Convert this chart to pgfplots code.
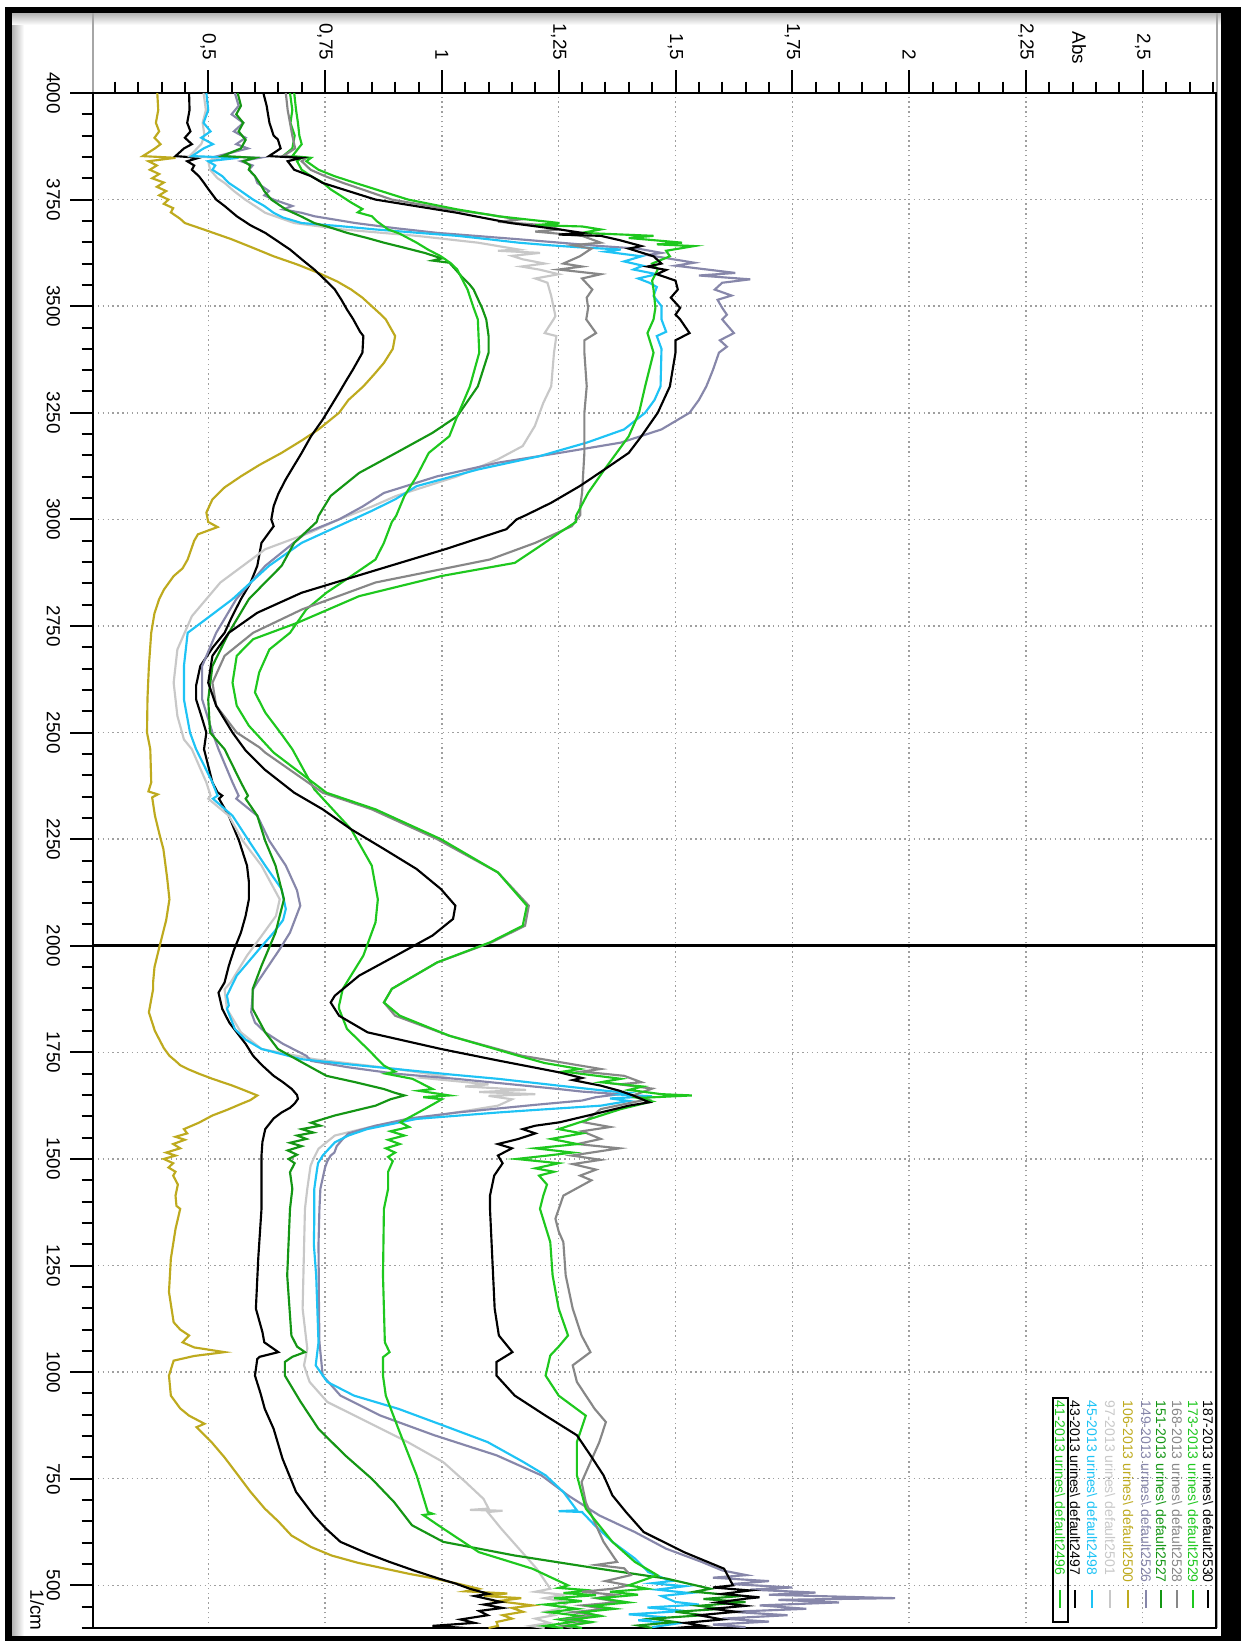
\documentclass[border=0pt]{standalone}
\usepackage{pgfplots}
\pgfplotsset{compat=1.18}
\usepackage{fontspec}
\setmainfont{Liberation Sans}
\definecolor{cGreen}{RGB}{30,200,30}
\definecolor{cGray}{RGB}{135,135,135}
\definecolor{cDGreen}{RGB}{20,150,20}
\definecolor{cSlate}{RGB}{135,135,170}
\definecolor{cOlive}{RGB}{190,170,30}
\definecolor{cLGray}{RGB}{200,200,200}
\definecolor{cCyan}{RGB}{30,195,245}
\begin{document}
\begin{tikzpicture}[x=0.35pt,y=0.35pt]
\useasboundingbox (0,0) rectangle (1248,1641);
\fill[white] (0,0) rectangle (1248,1641);
\shade[left color=gray!60, right color=white] (12,5) rectangle (24,1628);
\shade[top color=gray!60, bottom color=white] (12,1616) rectangle (1221,1628);
\fill[black] (5,0) rectangle (12,1634);
\fill[black] (5,1628) rectangle (1241,1634);
\fill[black] (1221,0) rectangle (1241,1634);
\fill[black] (5,0) rectangle (1241,5);
\draw[gray!70, line width=0.4pt] (93,13) -- (93,1628);
\draw[gray!70, line width=0.4pt] (1217,13) -- (1217,1628);
\begin{axis}[
  at={(32.55pt,4.55pt)}, anchor=south west,
  scale only axis, width=393.05pt, height=537.25pt,
  xmin=0.2534, xmax=2.6567, ymin=400, ymax=4000,
  axis line style={black, line width=0.9pt},
  xtick={0.5,0.75,1,1.25,1.5,1.75,2,2.25,2.5},
  xticklabels={{0,5},{0,75},1,{1,25},{1,5},{1,75},2,{2,25},{2,5}},
  minor xtick={0.3,0.35,...,2.66},
  ytick={500,750,1000,1250,1500,1750,2000,2250,2500,2750,3000,3250,3500,3750,4000},
  yticklabels={500,750,1000,1250,1500,1750,2000,2250,2500,2750,3000,3250,3500,3750,4000},
  minor ytick={400,450,...,4000},
  xtick pos=right, xticklabel pos=right,
  ytick pos=left, yticklabel pos=left,
  tick align=outside,
  major tick length=8pt, minor tick length=4pt,
  tick style={black, line width=0.7pt},
  grid=major,
  major grid style={draw=gray!75, dash pattern=on 0.5pt off 1.2pt, line width=0.5pt},
  tick label style={font=\fontsize{6.6}{7}\selectfont},
  xticklabel style={rotate=-90, anchor=east},
  yticklabel style={rotate=-90, anchor=north},
  extra y ticks={2000}, extra y tick labels={},
  extra y tick style={grid=major, major grid style={black, solid, line width=0.9pt}},
]
% 106 olive
\addplot[color=cOlive, line width=0.75pt, mark=none] coordinates {
(0.391,4000) (0.393,3960) (0.388,3930) (0.395,3910) (0.385,3895) (0.398,3880) (0.386,3870) (0.36,3852) (0.43,3848) (0.372,3840) (0.39,3830) (0.375,3820) (0.395,3810) (0.38,3800) (0.405,3790) (0.39,3780) (0.41,3770) (0.395,3760) (0.415,3750) (0.405,3740) (0.425,3730) (0.42,3720) (0.44,3705) (0.45,3695) (0.49,3680) (0.55,3657) (0.60,3635) (0.64,3617) (0.69,3598) (0.736,3578) (0.776,3558) (0.806,3539) (0.83,3520) (0.85,3500) (0.87,3480) (0.88,3469) (0.90,3430) (0.895,3400) (0.876,3367) (0.855,3340) (0.832,3312) (0.80,3280) (0.78,3250) (0.736,3211) (0.70,3185) (0.657,3156) (0.61,3128) (0.57,3101) (0.535,3075) (0.509,3047) (0.496,3016) (0.50,2994) (0.52,2982) (0.478,2965) (0.47,2950) (0.456,2906) (0.445,2885) (0.426,2867) (0.405,2835) (0.395,2813) (0.385,2780) (0.378,2734) (0.373,2656) (0.37,2580) (0.369,2500) (0.376,2461) (0.378,2383) (0.372,2362) (0.392,2355) (0.38,2348) (0.386,2305) (0.396,2260) (0.404,2227) (0.412,2160) (0.417,2109) (0.41,2060) (0.395,1995) (0.385,1950) (0.382,1914) (0.382,1898) (0.373,1844) (0.38,1820) (0.386,1800) (0.395,1781) (0.405,1760) (0.417,1742) (0.43,1730) (0.44,1720) (0.456,1711) (0.48,1700) (0.509,1688) (0.552,1672) (0.58,1660) (0.605,1649) (0.59,1638) (0.57,1629) (0.54,1615) (0.509,1602) (0.48,1585) (0.448,1570) (0.455,1560) (0.43,1552) (0.45,1545) (0.425,1535) (0.44,1525) (0.41,1515) (0.43,1508) (0.405,1500) (0.425,1490) (0.415,1480) (0.43,1470) (0.425,1461) (0.435,1440) (0.43,1414) (0.432,1390) (0.44,1383) (0.43,1336) (0.42,1266) (0.416,1188) (0.426,1117) (0.44,1100) (0.459,1086) (0.445,1070) (0.47,1058) (0.535,1047) (0.47,1038) (0.426,1027) (0.416,992) (0.42,945) (0.44,915) (0.459,898) (0.492,879) (0.475,871) (0.507,836) (0.535,800) (0.564,758) (0.59,720) (0.621,680) (0.65,650) (0.678,617) (0.72,590) (0.764,570) (0.82,553) (0.879,539) (0.93,527) (0.984,516) (1.03,505) (1.079,492) (1.05,486) (1.14,481) (1.09,475) (1.17,470) (1.12,463) (1.194,453) (1.15,447) (1.174,438) (1.13,430) (1.15,422) (1.117,414) (1.12,405) (1.10,400)};
% 43 black
\addplot[color=black, line width=0.75pt, mark=none] coordinates {
(0.459,4000) (0.46,3960) (0.455,3930) (0.462,3910) (0.45,3895) (0.465,3880) (0.448,3870) (0.43,3852) (0.48,3848) (0.455,3840) (0.47,3830) (0.465,3820) (0.48,3805) (0.491,3789) (0.50,3775) (0.517,3750) (0.535,3735) (0.561,3711) (0.59,3690) (0.622,3672) (0.645,3655) (0.675,3633) (0.70,3610) (0.727,3586) (0.75,3562) (0.771,3539) (0.785,3515) (0.797,3492) (0.81,3470) (0.825,3440) (0.832,3430) (0.83,3391) (0.81,3352) (0.795,3325) (0.78,3297) (0.745,3234) (0.72,3195) (0.70,3156) (0.666,3094) (0.65,3060) (0.64,3031) (0.635,3000) (0.64,2984) (0.614,2945) (0.605,2891) (0.59,2850) (0.57,2813) (0.55,2770) (0.535,2734) (0.51,2700) (0.483,2656) (0.474,2610) (0.474,2578) (0.485,2540) (0.496,2500) (0.491,2461) (0.509,2383) (0.52,2360) (0.53,2352) (0.523,2345) (0.544,2305) (0.566,2246) (0.583,2188) (0.587,2150) (0.587,2109) (0.58,2070) (0.57,2031) (0.555,1990) (0.544,1953) (0.535,1914) (0.522,1890) (0.53,1852) (0.545,1820) (0.561,1797) (0.58,1770) (0.596,1742) (0.615,1720) (0.64,1695) (0.66,1680) (0.679,1664) (0.69,1650) (0.692,1641) (0.685,1630) (0.675,1620) (0.657,1609) (0.64,1595) (0.622,1570) (0.616,1540) (0.614,1508) (0.614,1430) (0.614,1383) (0.607,1266) (0.602,1149) (0.616,1094) (0.62,1070) (0.65,1047) (0.61,1036) (0.605,1031) (0.60,992) (0.612,950) (0.621,914) (0.64,867) (0.659,797) (0.688,719) (0.726,664) (0.75,635) (0.783,602) (0.84,575) (0.888,555) (0.94,535) (0.993,516) (1.03,504) (1.06,492) (1.10,480) (1.07,475) (1.127,461) (1.09,455) (1.13,447) (1.08,440) (1.098,430) (1.04,420) (1.07,412) (0.98,405) (1.05,400)};
% 97 light gray
\addplot[color=cLGray, line width=0.75pt, mark=none] coordinates {
(0.49,4000) (0.495,3960) (0.488,3930) (0.492,3900) (0.485,3880) (0.46,3852) (0.52,3848) (0.50,3840) (0.504,3820) (0.52,3800) (0.535,3789) (0.555,3770) (0.579,3750) (0.60,3735) (0.622,3719) (0.684,3695) (0.788,3680) (0.946,3665) (1.077,3649) (1.164,3633) (1.12,3630) (1.21,3625) (1.15,3618) (1.173,3610) (1.22,3600) (1.17,3593) (1.208,3586) (1.25,3575) (1.20,3565) (1.226,3555) (1.234,3524) (1.243,3477) (1.239,3469) (1.22,3437) (1.245,3430) (1.24,3391) (1.234,3312) (1.217,3273) (1.199,3219) (1.173,3172) (1.12,3141) (1.033,3101) (0.902,3055) (0.85,3030) (0.78,3000) (0.72,2970) (0.622,2930) (0.526,2852) (0.465,2773) (0.434,2695) (0.426,2617) (0.434,2539) (0.448,2484) (0.465,2461) (0.496,2383) (0.505,2352) (0.50,2345) (0.544,2305) (0.574,2246) (0.614,2188) (0.653,2109) (0.645,2070) (0.614,2023) (0.583,1977) (0.548,1914) (0.535,1898) (0.54,1852) (0.57,1797) (0.614,1758) (0.727,1734) (0.902,1711) (1.00,1695) (0.96,1690) (1.10,1675) (1.05,1670) (1.18,1662) (1.08,1657) (1.20,1652) (1.10,1648) (1.15,1640) (1.12,1625) (0.99,1602) (0.858,1578) (0.771,1555) (0.736,1524) (0.725,1500) (0.719,1484) (0.712,1430) (0.707,1383) (0.702,1149) (0.712,1055) (0.705,1016) (0.717,977) (0.755,930) (0.841,883) (0.927,836) (1.003,789) (1.051,742) (1.089,703) (1.10,680) (1.06,677) (1.13,675) (1.098,672) (1.127,633) (1.165,586) (1.203,539) (1.232,492) (1.20,485) (1.26,478) (1.22,470) (1.27,460) (1.251,445) (1.22,438) (1.24,430) (1.20,422) (1.23,412) (1.19,405) (1.22,400)};
% 149 slate
\addplot[color=cSlate, line width=0.75pt, mark=none] coordinates {
(0.557,4000) (0.565,3970) (0.55,3950) (0.575,3930) (0.555,3910) (0.58,3895) (0.56,3880) (0.585,3870) (0.52,3852) (0.61,3848) (0.57,3840) (0.595,3830) (0.587,3820) (0.60,3805) (0.605,3789) (0.63,3770) (0.62,3760) (0.64,3750) (0.68,3735) (0.66,3727) (0.70,3719) (0.727,3711) (0.815,3695) (0.90,3683) (0.99,3672) (1.164,3657) (1.34,3641) (1.42,3635) (1.47,3625) (1.44,3620) (1.54,3602) (1.50,3595) (1.628,3578) (1.55,3572) (1.66,3563) (1.60,3555) (1.584,3539) (1.62,3525) (1.59,3515) (1.60,3496) (1.61,3480) (1.60,3469) (1.625,3437) (1.595,3420) (1.61,3405) (1.593,3391) (1.58,3350) (1.566,3312) (1.55,3280) (1.53,3250) (1.47,3211) (1.383,3180) (1.252,3156) (1.12,3133) (0.99,3101) (0.876,3062) (0.83,3030) (0.78,3000) (0.71,2969) (0.622,2891) (0.56,2813) (0.517,2734) (0.487,2656) (0.487,2578) (0.509,2500) (0.522,2461) (0.552,2383) (0.565,2352) (0.56,2345) (0.605,2305) (0.631,2246) (0.666,2188) (0.69,2130) (0.697,2094) (0.675,2031) (0.653,1992) (0.605,1914) (0.596,1898) (0.592,1844) (0.60,1820) (0.622,1797) (0.66,1770) (0.71,1742) (0.72,1730) (0.80,1715) (0.90,1700) (1.03,1688) (1.15,1675) (1.25,1664) (1.30,1658) (1.38,1652) (1.33,1645) (1.30,1637) (1.20,1627) (1.033,1609) (0.93,1595) (0.858,1578) (0.80,1560) (0.788,1547) (0.775,1530) (0.77,1515) (0.762,1508) (0.755,1495) (0.75,1480) (0.74,1430) (0.738,1383) (0.736,1300) (0.737,1150) (0.738,1070) (0.745,992) (0.783,945) (0.869,898) (0.984,852) (1.117,805) (1.213,758) (1.27,711) (1.337,664) (1.413,625) (1.48,586) (1.556,555) (1.60,535) (1.652,524) (1.58,518) (1.70,510) (1.62,503) (1.75,495) (1.66,490) (1.80,483) (1.70,478) (1.97,470) (1.72,466) (1.85,460) (1.68,453) (1.78,445) (1.62,438) (1.74,430) (1.60,422) (1.70,415) (1.58,408) (1.65,402)};
% 45 cyan
\addplot[color=cCyan, line width=0.75pt, mark=none] coordinates {
(0.496,4000) (0.50,3960) (0.49,3930) (0.505,3910) (0.485,3895) (0.51,3880) (0.49,3870) (0.465,3852) (0.565,3848) (0.50,3840) (0.515,3830) (0.509,3820) (0.53,3805) (0.544,3789) (0.57,3770) (0.596,3750) (0.62,3735) (0.64,3719) (0.66,3708) (0.70,3695) (0.78,3688) (0.858,3680) (0.95,3672) (1.033,3665) (1.10,3657) (1.164,3649) (1.23,3643) (1.295,3638) (1.383,3633) (1.35,3628) (1.427,3617) (1.39,3605) (1.43,3595) (1.41,3586) (1.46,3575) (1.42,3565) (1.444,3555) (1.46,3545) (1.453,3524) (1.47,3500) (1.47,3469) (1.48,3440) (1.46,3430) (1.47,3400) (1.468,3312) (1.455,3280) (1.435,3250) (1.39,3211) (1.31,3180) (1.208,3148) (1.077,3117) (0.946,3078) (0.90,3047) (0.85,3020) (0.80,2995) (0.74,2965) (0.70,2945) (0.63,2891) (0.552,2813) (0.50,2770) (0.456,2734) (0.448,2656) (0.448,2578) (0.461,2500) (0.474,2461) (0.509,2383) (0.52,2352) (0.51,2345) (0.552,2305) (0.587,2246) (0.622,2188) (0.657,2133) (0.666,2086) (0.66,2060) (0.64,2031) (0.609,1992) (0.561,1930) (0.54,1883) (0.544,1860) (0.54,1852) (0.557,1805) (0.58,1780) (0.614,1758) (0.70,1734) (0.80,1722) (0.902,1711) (1.02,1698) (1.12,1688) (1.25,1672) (1.35,1660) (1.40,1655) (1.38,1651) (1.45,1647) (1.36,1642) (1.40,1636) (1.34,1625) (1.20,1615) (1.12,1609) (0.946,1594) (0.84,1570) (0.80,1555) (0.771,1539) (0.755,1520) (0.745,1508) (0.735,1490) (0.732,1469) (0.727,1430) (0.727,1360) (0.726,1300) (0.731,1227) (0.736,1070) (0.73,1016) (0.755,977) (0.812,945) (0.907,914) (1.003,875) (1.098,836) (1.175,789) (1.222,758) (1.26,719) (1.289,676) (1.25,674) (1.30,672) (1.327,641) (1.365,602) (1.413,563) (1.442,531) (1.49,510) (1.45,505) (1.52,498) (1.46,490) (1.53,482) (1.47,475) (1.50,461) (1.55,455) (1.44,448) (1.52,440) (1.40,432) (1.48,425) (1.42,418) (1.50,410) (1.45,402)};
% 151 dark green
\addplot[color=cDGreen, line width=0.75pt, mark=none] coordinates {
(0.563,4000) (0.57,3970) (0.56,3950) (0.575,3930) (0.565,3910) (0.58,3890) (0.57,3870) (0.53,3852) (0.60,3848) (0.575,3840) (0.59,3830) (0.587,3820) (0.60,3805) (0.61,3789) (0.62,3770) (0.635,3750) (0.666,3727) (0.70,3710) (0.727,3695) (0.76,3685) (0.797,3672) (0.84,3660) (0.876,3649) (0.92,3637) (0.963,3625) (1.00,3612) (0.98,3607) (1.016,3602) (1.03,3585) (1.042,3570) (1.06,3550) (1.068,3539) (1.08,3510) (1.086,3496) (1.095,3469) (1.10,3430) (1.10,3391) (1.077,3312) (1.033,3242) (0.98,3203) (0.902,3156) (0.823,3109) (0.762,3055) (0.736,3008) (0.732,2994) (0.684,2945) (0.657,2891) (0.62,2850) (0.587,2813) (0.544,2734) (0.509,2656) (0.50,2578) (0.504,2500) (0.535,2461) (0.57,2383) (0.585,2352) (0.58,2345) (0.605,2305) (0.622,2246) (0.644,2188) (0.662,2109) (0.644,2031) (0.614,1953) (0.595,1898) (0.595,1852) (0.622,1797) (0.649,1758) (0.70,1727) (0.753,1695) (0.815,1680) (0.876,1664) (0.90,1655) (0.92,1649) (0.89,1640) (0.858,1625) (0.771,1602) (0.72,1585) (0.74,1578) (0.70,1570) (0.725,1562) (0.69,1555) (0.71,1547) (0.675,1538) (0.70,1530) (0.67,1520) (0.69,1510) (0.672,1500) (0.685,1490) (0.675,1469) (0.68,1430) (0.675,1383) (0.669,1227) (0.678,1086) (0.69,1060) (0.707,1047) (0.68,1036) (0.664,1024) (0.664,992) (0.698,930) (0.736,867) (0.793,805) (0.85,750) (0.898,695) (0.936,641) (1.003,602) (1.156,570) (1.337,539) (1.48,516) (1.575,492) (1.54,485) (1.64,475) (1.56,468) (1.65,461) (1.55,452) (1.60,445) (1.50,438) (1.56,430) (1.45,422) (1.50,414) (1.42,406) (1.45,400)};
% 41 green
\addplot[color=cGreen, line width=0.75pt, mark=none] coordinates {
(0.675,4000) (0.68,3960) (0.676,3930) (0.685,3900) (0.68,3870) (0.66,3852) (0.70,3848) (0.69,3840) (0.70,3820) (0.72,3805) (0.745,3790) (0.762,3774) (0.785,3758) (0.806,3743) (0.83,3728) (0.82,3720) (0.85,3711) (0.86,3700) (0.885,3680) (0.91,3670) (0.946,3649) (0.97,3633) (0.998,3617) (1.02,3600) (1.033,3586) (1.045,3560) (1.055,3539) (1.068,3496) (1.077,3469) (1.08,3391) (1.06,3312) (1.033,3242) (1.016,3195) (0.972,3156) (0.946,3101) (0.92,3055) (0.902,3008) (0.893,2994) (0.876,2945) (0.858,2906) (0.806,2867) (0.753,2828) (0.71,2789) (0.675,2734) (0.631,2695) (0.609,2641) (0.60,2594) (0.622,2547) (0.657,2496) (0.68,2461) (0.727,2367) (0.806,2273) (0.85,2188) (0.863,2109) (0.858,2055) (0.832,1977) (0.788,1899) (0.78,1860) (0.78,1852) (0.797,1805) (0.841,1758) (0.876,1719) (0.90,1705) (0.88,1700) (0.937,1688) (0.98,1664) (0.95,1660) (1.016,1649) (0.96,1645) (1.00,1640) (0.963,1617) (0.911,1586) (0.93,1575) (0.89,1565) (0.92,1555) (0.885,1545) (0.91,1535) (0.88,1525) (0.90,1515) (0.885,1505) (0.895,1495) (0.885,1470) (0.885,1430) (0.876,1383) (0.874,1227) (0.878,1070) (0.888,1047) (0.874,1035) (0.874,992) (0.88,945) (0.907,867) (0.946,758) (0.97,672) (0.98,668) (0.96,665) (1.003,633) (1.079,578) (1.194,539) (1.27,500) (1.25,494) (1.32,488) (1.26,482) (1.33,477) (1.24,470) (1.30,463) (1.22,455) (1.29,445) (1.23,437) (1.30,428) (1.25,420) (1.28,414) (1.22,405) (1.26,400)};
% 168 gray
\addplot[color=cGray, line width=0.75pt, mark=none] coordinates {
(0.666,4000) (0.67,3960) (0.675,3930) (0.68,3900) (0.686,3870) (0.66,3852) (0.71,3848) (0.70,3840) (0.719,3820) (0.75,3805) (0.789,3789) (0.84,3770) (0.893,3750) (1.016,3727) (1.10,3715) (1.164,3703) (1.12,3698) (1.22,3690) (1.252,3680) (1.20,3675) (1.30,3665) (1.34,3649) (1.28,3643) (1.32,3635) (1.295,3617) (1.26,3600) (1.30,3593) (1.25,3586) (1.34,3575) (1.30,3565) (1.322,3539) (1.31,3520) (1.313,3496) (1.309,3469) (1.33,3437) (1.305,3420) (1.305,3391) (1.31,3312) (1.305,3250) (1.305,3156) (1.30,3062) (1.296,3031) (1.296,3010) (1.278,2984) (1.20,2945) (1.103,2906) (0.858,2852) (0.701,2789) (0.596,2734) (0.535,2680) (0.509,2617) (0.517,2563) (0.561,2500) (0.61,2465) (0.622,2453) (0.745,2359) (0.85,2320) (0.99,2250) (1.12,2172) (1.186,2094) (1.178,2047) (1.106,2008) (0.99,1961) (0.893,1899) (0.876,1867) (0.90,1836) (1.016,1789) (1.172,1742) (1.34,1711) (1.30,1705) (1.39,1695) (1.427,1680) (1.38,1675) (1.45,1665) (1.409,1649) (1.44,1640) (1.34,1617) (1.304,1586) (1.36,1575) (1.30,1565) (1.34,1547) (1.29,1535) (1.38,1525) (1.278,1508) (1.34,1498) (1.28,1488) (1.33,1475) (1.296,1461) (1.32,1450) (1.26,1414) (1.243,1360) (1.25,1330) (1.26,1305) (1.265,1227) (1.28,1149) (1.299,1086) (1.318,1047) (1.28,1016) (1.289,977) (1.327,914) (1.351,883) (1.337,836) (1.318,789) (1.299,742) (1.308,695) (1.327,648) (1.346,602) (1.375,555) (1.33,548) (1.39,540) (1.404,524) (1.35,510) (1.40,500) (1.365,492) (1.30,485) (1.37,478) (1.33,470) (1.38,461) (1.30,453) (1.35,445) (1.28,437) (1.33,430) (1.27,420) (1.31,412) (1.26,405) (1.28,400)};
% 173 green
\addplot[color=cGreen, line width=0.75pt, mark=none] coordinates {
(0.684,4000) (0.688,3960) (0.692,3930) (0.695,3900) (0.70,3880) (0.68,3852) (0.72,3848) (0.71,3840) (0.736,3820) (0.77,3805) (0.815,3789) (0.87,3770) (0.928,3750) (1.033,3727) (1.12,3711) (1.252,3695) (1.20,3690) (1.30,3687) (1.34,3680) (1.30,3672) (1.453,3665) (1.40,3660) (1.514,3649) (1.46,3645) (1.54,3641) (1.48,3630) (1.488,3617) (1.45,3600) (1.462,3586) (1.45,3560) (1.453,3539) (1.457,3496) (1.453,3469) (1.44,3437) (1.453,3391) (1.435,3312) (1.422,3250) (1.40,3195) (1.374,3156) (1.348,3117) (1.313,3062) (1.287,3008) (1.287,2994) (1.252,2969) (1.20,2930) (1.156,2898) (0.998,2867) (0.823,2820) (0.692,2758) (0.596,2719) (0.561,2680) (0.552,2617) (0.561,2563) (0.587,2516) (0.64,2453) (0.753,2359) (0.858,2320) (0.998,2250) (1.12,2172) (1.182,2094) (1.173,2047) (1.103,2008) (0.99,1961) (0.893,1899) (0.876,1867) (0.91,1836) (1.016,1789) (1.164,1742) (1.22,1725) (1.295,1711) (1.26,1705) (1.383,1688) (1.34,1680) (1.43,1670) (1.40,1662) (1.47,1652) (1.535,1649) (1.42,1643) (1.45,1635) (1.383,1617) (1.295,1586) (1.25,1570) (1.30,1560) (1.234,1547) (1.29,1535) (1.20,1525) (1.28,1515) (1.226,1508) (1.16,1500) (1.25,1490) (1.20,1478) (1.24,1470) (1.208,1461) (1.225,1440) (1.217,1414) (1.21,1383) (1.232,1305) (1.237,1227) (1.25,1149) (1.27,1086) (1.25,1060) (1.232,1039) (1.222,992) (1.25,945) (1.308,898) (1.289,836) (1.289,758) (1.308,680) (1.365,602) (1.413,555) (1.461,524) (1.40,500) (1.44,492) (1.36,485) (1.42,478) (1.337,470) (1.40,460) (1.32,452) (1.37,445) (1.30,437) (1.34,428) (1.28,420) (1.32,414) (1.27,405) (1.30,400)};
% 187 black
\addplot[color=black, line width=0.75pt, mark=none] coordinates {
(0.618,4000) (0.625,3970) (0.631,3930) (0.64,3900) (0.649,3891) (0.655,3870) (0.63,3852) (0.70,3848) (0.67,3840) (0.684,3820) (0.72,3805) (0.745,3789) (0.80,3770) (0.858,3750) (1.033,3719) (1.147,3695) (1.252,3680) (1.30,3672) (1.25,3668) (1.34,3665) (1.38,3655) (1.427,3641) (1.40,3635) (1.453,3617) (1.47,3600) (1.44,3593) (1.48,3585) (1.46,3575) (1.50,3560) (1.505,3539) (1.49,3520) (1.51,3496) (1.50,3480) (1.51,3469) (1.53,3437) (1.50,3420) (1.50,3391) (1.488,3312) (1.462,3250) (1.427,3195) (1.40,3156) (1.348,3117) (1.295,3078) (1.234,3039) (1.18,3010) (1.16,3000) (1.138,2977) (1.007,2930) (0.841,2875) (0.70,2828) (0.605,2781) (0.544,2734) (0.509,2680) (0.50,2617) (0.517,2563) (0.552,2500) (0.58,2458) (0.62,2414) (0.684,2359) (0.745,2320) (0.806,2273) (0.876,2227) (0.946,2180) (0.998,2133) (1.029,2094) (1.024,2063) (0.98,2024) (0.902,1977) (0.823,1930) (0.771,1883) (0.762,1867) (0.78,1836) (0.841,1797) (0.998,1758) (1.12,1731) (1.252,1703) (1.30,1690) (1.28,1685) (1.34,1672) (1.38,1660) (1.409,1649) (1.444,1633) (1.40,1625) (1.34,1609) (1.252,1586) (1.20,1578) (1.173,1570) (1.20,1560) (1.164,1547) (1.12,1535) (1.15,1525) (1.12,1508) (1.13,1490) (1.112,1461) (1.103,1414) (1.103,1383) (1.108,1266) (1.113,1149) (1.122,1086) (1.151,1047) (1.117,1024) (1.117,992) (1.156,945) (1.222,898) (1.289,852) (1.318,805) (1.346,758) (1.365,711) (1.394,672) (1.432,625) (1.518,578) (1.604,539) (1.623,500) (1.58,495) (1.66,488) (1.60,480) (1.68,472) (1.652,469) (1.59,460) (1.65,452) (1.58,445) (1.63,438) (1.55,430) (1.60,420) (1.52,412) (1.56,405) (1.50,400)};
\end{axis}
% axis unit labels
\node[rotate=-90, font=\fontsize{6.6}{7}\selectfont, inner sep=0pt] at (1079,1593) {Abs};
\node[rotate=-90, font=\fontsize{6.6}{7}\selectfont, inner sep=0pt] at (37,31) {1/cm};
% legend
\begin{scope}[every node/.style={rotate=-90, anchor=west, inner sep=0pt, font=\fontsize{4.9}{5}\selectfont}]
\node[text=black]   at (1208,241) {187-2013 urines\textbackslash\ default2530};
\node[text=cGreen]  at (1193,241) {173-2013 urines\textbackslash\ default2529};
\node[text=cGray]   at (1177,241) {168-2013 urines\textbackslash\ default2528};
\node[text=cDGreen] at (1161,241) {151-2013 urines\textbackslash\ default2527};
\node[text=cSlate]  at (1146,241) {149-2013 urines\textbackslash\ default2526};
\node[text=cOlive]  at (1128,241) {106-2013 urines\textbackslash\ default2500};
\node[text=cLGray]  at (1110,241) {97-2013 urines\textbackslash\ default2501};
\node[text=cCyan]   at (1092,241) {45-2013 urines\textbackslash\ default2498};
\node[text=black]   at (1075,241) {43-2013 urines\textbackslash\ default2497};
\node[text=cGreen]  at (1060,241) {41-2013 urines\textbackslash\ default2496};
\end{scope}
\draw[black, line width=0.8pt] (1208,33) -- (1208,51);
\draw[cGreen, line width=0.8pt] (1193,33) -- (1193,51);
\draw[cGray, line width=0.8pt] (1177,33) -- (1177,51);
\draw[cDGreen, line width=0.8pt] (1161,33) -- (1161,51);
\draw[cSlate, line width=0.8pt] (1146,33) -- (1146,51);
\draw[cOlive, line width=0.8pt] (1128,33) -- (1128,51);
\draw[cLGray, line width=0.8pt] (1110,33) -- (1110,51);
\draw[cCyan, line width=0.8pt] (1092,33) -- (1092,51);
\draw[black, line width=0.8pt] (1075,33) -- (1075,51);
\draw[cGreen, line width=0.8pt] (1060,33) -- (1060,51);
\draw[black, line width=0.6pt] (1053,19) rectangle (1068,243);
\end{tikzpicture}
\end{document}
